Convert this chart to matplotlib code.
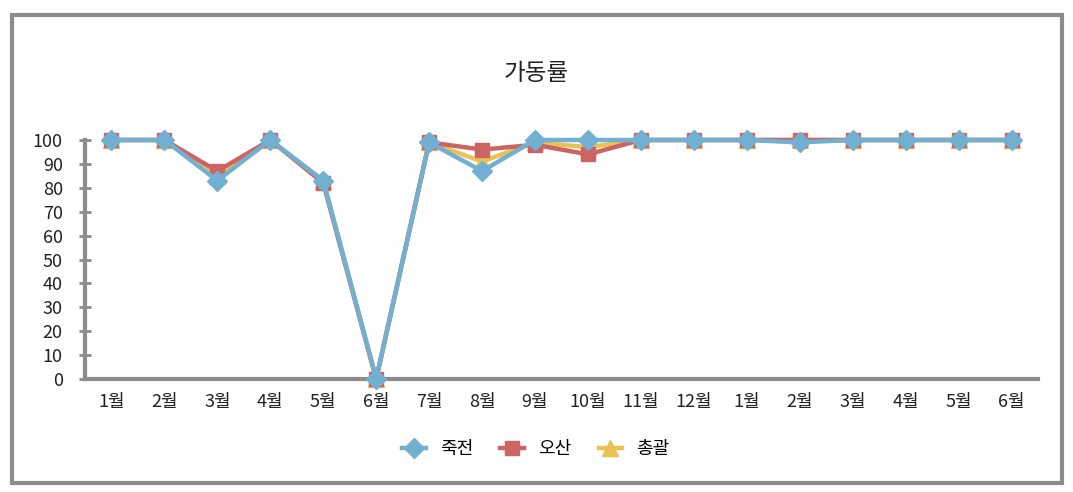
import matplotlib
matplotlib.use("Agg")
import matplotlib.pyplot as plt
from matplotlib.patches import Rectangle

plt.rcParams['font.family'] = ['Noto Sans CJK KR', 'DejaVu Sans']

months = ["1월", "2월", "3월", "4월", "5월", "6월", "7월", "8월", "9월", "10월",
          "11월", "12월", "1월", "2월", "3월", "4월", "5월", "6월"]
jukjeon = [100, 100, 83, 100, 83, 0, 99, 87, 100, 100, 100, 100, 100, 99, 100, 100, 100, 100]
osan = [100, 100, 87, 100, 82, 0, 99, 96, 98, 94, 100, 100, 100, 100, 100, 100, 100, 100]
total = [100, 100, 85, 100, 83, 0, 99, 91, 99, 97, 100, 100, 100, 100, 100, 100, 100, 100]
yticks = list(range(0, 101, 10))

W, H = 1073, 492
fig = plt.figure(figsize=(W / 100, H / 100), dpi=100)
ax = fig.add_axes([85 / W, 1 - 379 / H, (1038 - 85) / W, (379 - 140) / H])

x = list(range(len(months)))
c_yellow = '#eac153'
c_red = '#cb6462'
c_blue = '#72b0d1'
ax.plot(x, total, color=c_yellow, lw=3.2, marker='^', ms=12, mec=c_yellow, mfc=c_yellow, label='총괄', zorder=3, clip_on=False)
ax.plot(x, osan, color=c_red, lw=3.2, marker='s', ms=10, mec=c_red, mfc=c_red, label='오산', zorder=4, clip_on=False)
ax.plot(x, jukjeon, color=c_blue, lw=3.2, marker='D', ms=10, mec=c_blue, mfc=c_blue, label='죽전', zorder=5, clip_on=False)

ax.set_xlim(-0.5, len(months) - 0.5)
ax.set_ylim(0, 100)
ax.set_yticks(yticks)
ax.set_xticks(x)
ax.set_xticklabels(months)
for s in ['top', 'right']:
    ax.spines[s].set_visible(False)
for s in ['left', 'bottom']:
    ax.spines[s].set_color('#8c8c8c')
    ax.spines[s].set_linewidth(3)
ax.tick_params(axis='y', direction='inout', length=8, width=2, color='#8c8c8c',
               labelsize=13, pad=12, labelcolor='#222222')
ax.tick_params(axis='x', length=0, labelsize=13, pad=10, labelcolor='#222222')

fig.text(536 / W, 1 - 73 / H, '가동률', ha='center', va='center', fontsize=17, color='#222222')

handles, labels = ax.get_legend_handles_labels()
order = [2, 1, 0]
fig.legend([handles[i] for i in order], [labels[i] for i in order],
           loc='center', bbox_to_anchor=(536 / W, 1 - 449 / H), ncol=3, frameon=False,
           fontsize=13, handlelength=1.3, columnspacing=1.5, handletextpad=0.8)

fig.patches.append(Rectangle((12 / W, 1 - 483 / H), (1062 - 12) / W, (483 - 15) / H,
                             transform=fig.transFigure, fill=False, edgecolor='#8c8c8c', lw=3))

fig.savefig('out.png', dpi=100)
